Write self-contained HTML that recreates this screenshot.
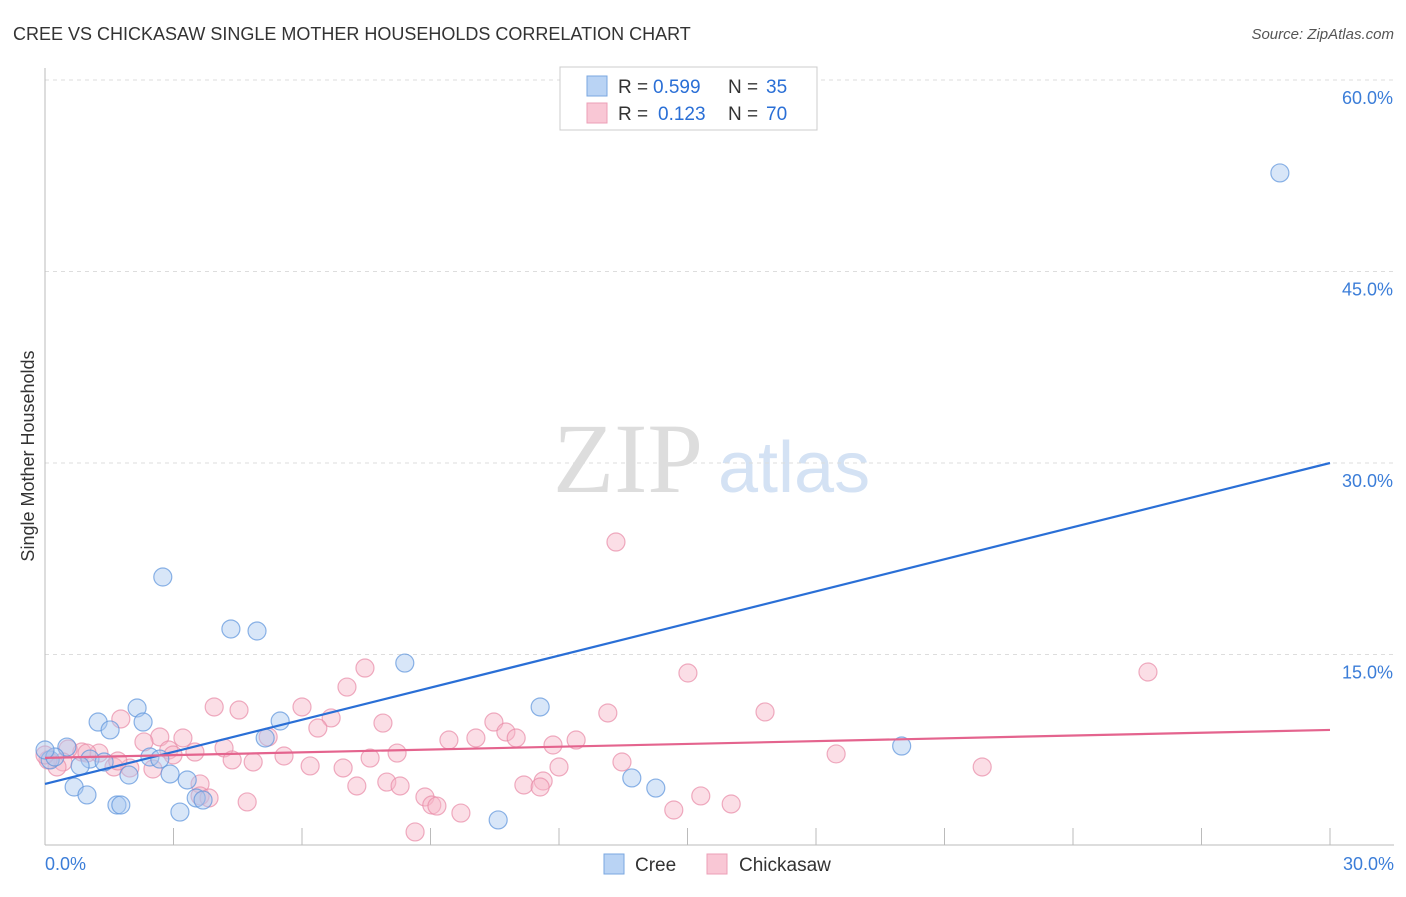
<!DOCTYPE html>
<html><head><meta charset="utf-8"><style>
body{margin:0;background:#fff;font-family:"Liberation Sans",sans-serif;}
</style></head><body>
<svg id="chart" width="1406" height="892" font-family="Liberation Sans, sans-serif">
<text x="13" y="40" font-size="18" fill="#333">CREE VS CHICKASAW SINGLE MOTHER HOUSEHOLDS CORRELATION CHART</text>
<text x="1394" y="39" font-size="15" fill="#555" font-style="italic" text-anchor="end">Source: ZipAtlas.com</text>
<text x="34" y="456" font-size="18" fill="#333" text-anchor="middle" transform="rotate(-90 34 456)">Single Mother Households</text>
<g>
<text x="553" y="492" font-size="100" fill="#ddd" style="font-family:'Liberation Serif',serif">ZIP</text>
<text x="718" y="492" font-size="72" fill="#d4e2f4">atlas</text>
</g>
<g id="grid"></g><g id="axes"></g><g id="pts"></g><g id="lines"></g>
<g>
<rect x="560" y="67" width="257" height="63" fill="#fff" stroke="#ccc"/>
<rect x="587" y="76" width="20" height="20" fill="#b9d3f4" stroke="#7aa7e0"/>
<rect x="587" y="103" width="20" height="20" fill="#f9c7d5" stroke="#ec9fb7"/>
<text x="618" y="93" font-size="19" fill="#333">R =</text>
<text x="653" y="93" font-size="19" fill="#2a6fd6">0.599</text>
<text x="728" y="93" font-size="19" fill="#333">N =</text>
<text x="766" y="93" font-size="19" fill="#2a6fd6">35</text>
<text x="618" y="120" font-size="19" fill="#333">R =</text>
<text x="658" y="120" font-size="19" fill="#2a6fd6">0.123</text>
<text x="728" y="120" font-size="19" fill="#333">N =</text>
<text x="766" y="120" font-size="19" fill="#2a6fd6">70</text>
</g>
<g>
<rect x="604" y="854" width="20" height="20" fill="#b9d3f4" stroke="#7aa7e0"/>
<text x="635" y="871" font-size="19" fill="#333">Cree</text>
<rect x="707" y="854" width="20" height="20" fill="#f9c7d5" stroke="#ec9fb7"/>
<text x="739" y="871" font-size="19" fill="#333">Chickasaw</text>
</g>
</svg>
<script>
const yTicks=[15,30,45,60];
const yTickLabels=["15.0%","30.0%","45.0%","60.0%"];
const xLabels=["0.0%","30.0%"];
const creeX=[28.83,2.75,4.34,4.95,8.40,11.56,5.49,5.14,2.15,2.29,1.24,1.52,0.51,2.45,2.68,1.05,1.38,0.82,0.12,0.23,2.92,1.96,3.32,0.68,0.98,1.68,1.77,3.53,3.69,3.15,10.58,13.70,14.26,20.0,0];
const creeY=[52.72,21.07,17.0,16.84,14.33,10.89,9.79,8.46,10.81,9.71,9.71,9.09,7.75,6.97,6.81,6.81,6.58,6.27,6.74,6.97,5.64,5.56,5.17,4.62,4.0,3.21,3.21,3.76,3.6,2.66,2.04,5.33,4.54,7.83,7.52];
const chickX=[13.33,25.75,15.01,7.47,7.05,6.0,3.95,4.53,13.14,16.81,6.68,7.89,10.48,1.77,6.37,10.76,11.0,12.4,9.43,10.06,11.86,3.22,2.68,2.31,2.89,3.5,4.18,8.22,18.47,5.21,2.99,4.37,4.86,5.58,6.19,6.96,7.59,13.47,12.0,1.61,1.26,0.86,0.54,0.42,0.28,1.98,2.52,21.88,7.28,7.98,8.29,3.62,3.62,3.83,4.72,11.18,11.63,11.56,8.87,9.03,9.15,9.71,8.64,14.68,15.31,16.02,0.07,0,1.7,0.98];
const chickY=[23.81,13.63,13.55,13.94,12.45,10.89,10.89,10.65,10.42,10.5,10.03,9.63,9.71,9.95,9.24,8.93,8.46,8.3,8.3,8.46,7.91,8.46,8.54,8.15,7.52,7.36,7.68,7.28,7.21,8.54,7.13,6.74,6.58,7.05,6.27,6.11,6.89,6.58,6.19,6.19,7.28,7.36,7.6,6.58,6.19,6.11,6.03,6.19,4.7,5.01,4.7,4.86,3.92,3.76,3.45,4.78,5.09,4.62,3.84,3.21,3.13,2.58,1.1,2.82,3.92,3.29,6.74,7.13,6.66,7.28];
const creeLine=[4.86,30.0];
const chickLine=[6.9,9.09];
const NS="http://www.w3.org/2000/svg";
const X0=45,X1=1330,YB=846,PPU=191.5/15;
function sx(v){return X0+v/30*(X1-X0);}
function sy(v){return YB-v*PPU;}
function mk(tag,attrs,parent){const e=document.createElementNS(NS,tag);for(const k in attrs)e.setAttribute(k,attrs[k]);document.getElementById(parent).appendChild(e);return e;}
yTicks.forEach((t,i)=>{
 const g=mk('line',{x1:45,x2:1394,y1:sy(t),y2:sy(t),stroke:'#ddd','stroke-dasharray':'4,4'},'grid');
 
 
 const l=mk('text',{x:1393,y:sy(t)+24,'font-size':18,fill:'#3b7dd8','text-anchor':'end'},'grid');
 l.textContent=yTickLabels[i];
 
 
});
const ax=mk('line',{x1:45,x2:45,y1:68,y2:845,stroke:'#bbb'},'axes');


const bx=mk('line',{x1:45,x2:1394,y1:845,y2:845,stroke:'#bbb'},'axes');


for(let i=1;i<=10;i++){const tk=mk('line',{x1:sx(i*3),x2:sx(i*3),y1:828,y2:845,stroke:'#bbb'},'axes');
 
 }
[[0,'start',45],[1,'end',1394]].forEach(([i,a,x])=>{const t=mk('text',{x:x,y:870,'font-size':18,fill:'#3b7dd8','text-anchor':a},'axes');t.textContent=xLabels[i];
 
 });
function pts(xs,ys,fill,stroke,name){xs.forEach((x,i)=>{const c=mk('circle',{cx:sx(x),cy:sy(ys[i]),r:9,fill:fill,'fill-opacity':0.45,stroke:stroke,'stroke-opacity':0.7,'stroke-width':1.2},'pts');
 
 });}
pts(chickX,chickY,'#f7b6c8','#e88aa6','chickasaw-point');
pts(creeX,creeY,'#a9c8f0','#5b93dc','cree-point');
const l1=mk('line',{x1:sx(0),y1:sy(creeLine[0]),x2:sx(30),y2:sy(creeLine[1]),stroke:'#2a6fd6','stroke-width':2.2},'lines');


const l2=mk('line',{x1:sx(0),y1:sy(chickLine[0]),x2:sx(30),y2:sy(chickLine[1]),stroke:'#e4648e','stroke-width':2.2},'lines');


</script>
</body></html>
